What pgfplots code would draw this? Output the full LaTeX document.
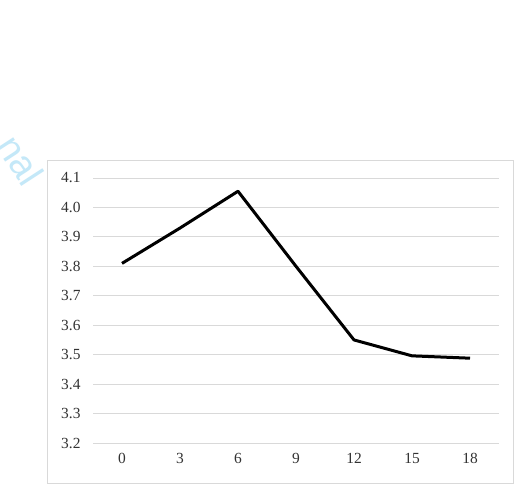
\documentclass[border=0pt]{standalone}
\usepackage{fontspec}
\setmainfont{Liberation Serif}
\usepackage{pgfplots}
\pgfplotsset{compat=1.18}
\definecolor{gridgray}{HTML}{D9D9D9}
\definecolor{wmblue}{HTML}{C4E8F8}
\begin{document}
\begin{tikzpicture}[x=1bp,y=1bp]
\useasboundingbox (0,0) rectangle (514,492);
\fill[white] (0,0) rectangle (514,492);
\node[text=wmblue, rotate=-57, font={\fontspec{Liberation Sans}\fontsize{38}{44}\selectfont}] at (21,332) {nal};
\draw[gridgray, line width=0.9bp] (47,9) rectangle (513,332);
\begin{axis}[
  at={(93bp,49bp)}, anchor=south west,
  scale only axis, width=406bp, height=265bp,
  xmin=-1.5, xmax=19.5, ymin=3.2, ymax=4.1,
  xtick={0,3,6,9,12,15,18},
  ytick={3.2,3.3,...,4.1},
  yticklabel style={/pgf/number format/fixed, /pgf/number format/fixed zerofill, /pgf/number format/precision=1},
  /pgf/number format/assume math mode=true,
  tick label style={font=\fontsize{15.5}{18}\selectfont, text=black!80},
  axis line style={draw=none},
  major tick length=0pt,
  ymajorgrids, grid style={gridgray, line width=0.9bp},
  yticklabel style={xshift=-9bp},
  xticklabel style={yshift=-7bp},
  clip=false,
]
\addplot[black, line width=3bp, line join=round] coordinates {
 (0,3.81) (3,3.93) (6,4.055) (9,3.80) (12,3.55) (15,3.496) (18,3.488)
};
\end{axis}
\end{tikzpicture}
\end{document}
